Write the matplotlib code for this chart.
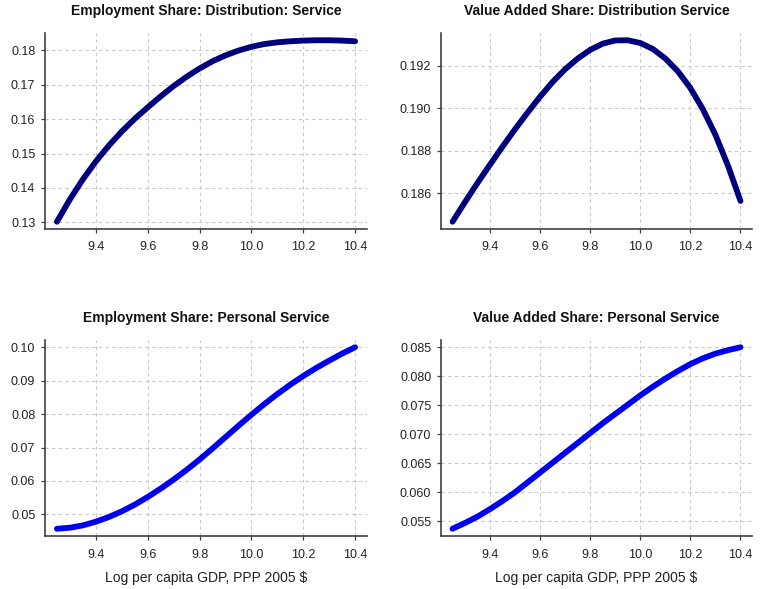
import matplotlib
matplotlib.use("Agg")
import matplotlib.pyplot as plt
from matplotlib.ticker import FormatStrFormatter, MultipleLocator

plt.rcParams["font.family"] = ["Liberation Sans", "DejaVu Sans"]

# Log per capita GDP grid (PPP 2005 $)
log_gdp = [9.25, 9.30, 9.35, 9.40, 9.45, 9.50, 9.55, 9.60, 9.65, 9.70, 9.75, 9.80,
           9.85, 9.90, 9.95, 10.00, 10.05, 10.10, 10.15, 10.20, 10.25, 10.30, 10.35, 10.40]

emp_distribution = [0.1302, 0.1367, 0.1425, 0.1477, 0.1523, 0.1564, 0.1601, 0.1634,
                    0.1666, 0.1696, 0.1723, 0.1747, 0.1768, 0.1785, 0.1799, 0.1810,
                    0.1818, 0.1823, 0.1826, 0.1828, 0.1829, 0.1829, 0.1828, 0.1826]

va_distribution = [0.18466, 0.18559, 0.18649, 0.18735, 0.18820, 0.18902, 0.18980, 0.19055,
                   0.19124, 0.19184, 0.19234, 0.19275, 0.19304, 0.19319, 0.19320, 0.19307,
                   0.19279, 0.19234, 0.19174, 0.19095, 0.18995, 0.18875, 0.18730, 0.18564]

emp_personal = [0.0457, 0.0460, 0.0467, 0.0478, 0.0492, 0.0509, 0.0529, 0.0552,
                0.0577, 0.0604, 0.0633, 0.0664, 0.0697, 0.0731, 0.0765, 0.0798,
                0.0830, 0.0860, 0.0888, 0.0914, 0.0938, 0.0960, 0.0981, 0.1000]

va_personal = [0.0537, 0.0547, 0.0558, 0.0571, 0.0585, 0.0600, 0.0617, 0.0634,
               0.0651, 0.0668, 0.0685, 0.0702, 0.0719, 0.0735, 0.0751, 0.0767,
               0.0782, 0.0796, 0.0809, 0.0821, 0.0831, 0.0839, 0.0845, 0.0850]

titles = ["Employment Share: Distribution: Service",
          "Value Added Share: Distribution Service",
          "Employment Share: Personal Service",
          "Value Added Share: Personal Service"]
series = [emp_distribution, va_distribution, emp_personal, va_personal]
colors = ["#00007f", "#00007f", "#0000f0", "#0000f0"]
y_steps = [0.01, 0.002, 0.01, 0.005]
y_formats = ["%.2f", "%.3f", "%.2f", "%.3f"]
x_label = "Log per capita GDP, PPP 2005 $"

W, H = 762, 589
fig = plt.figure(figsize=(W / 100, H / 100), dpi=100)

# panel boxes in pixels: left, top, right, bottom
boxes = [(45, 33, 367, 229), (441, 33, 752, 229),
         (45, 340, 367, 536), (441, 340, 752, 536)]

spine_col = "#404040"
for i, (l, t, r, b) in enumerate(boxes):
    ax = fig.add_axes([l / W, 1 - b / H, (r - l) / W, (b - t) / H])
    ax.plot(log_gdp, series[i], color=colors[i], lw=4.2,
            solid_capstyle="round", solid_joinstyle="round", zorder=3)
    ax.margins(x=0.04, y=0.04)
    ax.xaxis.set_major_locator(MultipleLocator(0.2))
    ax.xaxis.set_major_formatter(FormatStrFormatter("%.1f"))
    ax.yaxis.set_major_locator(MultipleLocator(y_steps[i]))
    ax.yaxis.set_major_formatter(FormatStrFormatter(y_formats[i]))
    ax.grid(True, color="#c8c8c8", linestyle=(0, (3, 3)), linewidth=0.8, zorder=0)
    for side in ("top", "right"):
        ax.spines[side].set_visible(False)
    for side in ("left", "bottom"):
        ax.spines[side].set_color(spine_col)
        ax.spines[side].set_linewidth(1.2)
    ax.tick_params(axis="both", length=3, width=0.9, color=spine_col,
                   labelsize=9, labelcolor="#222222")
    ax.tick_params(axis="x", pad=6)
    ax.tick_params(axis="y", pad=4)
    ax.set_title(titles[i], fontsize=10, fontweight="bold", pad=13, color="#111111")
    if i >= 2:
        ax.set_xlabel(x_label, fontsize=10, color="#222222", labelpad=7.5)

fig.savefig("out.png", dpi=100)
